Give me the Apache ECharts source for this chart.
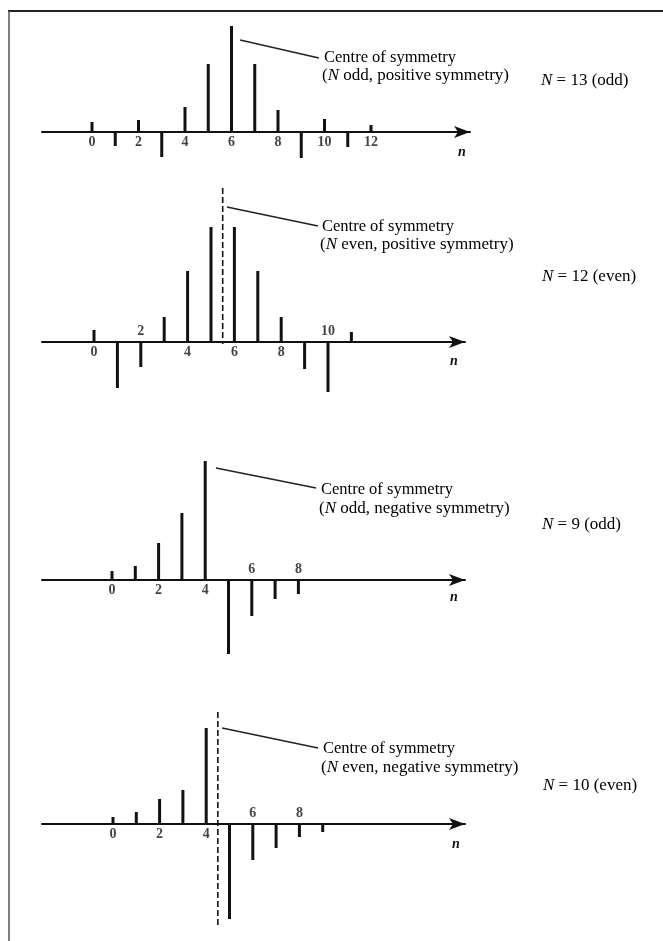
<!DOCTYPE html>
<html><head><meta charset="utf-8">
<script src="https://cdn.jsdelivr.net/npm/echarts@6/dist/echarts.min.js"></script>
<style>html,body{margin:0;padding:0;background:#fff}#c{width:663px;height:941px}</style>
</head><body><div id="c"></div>
<script>
// ---- data (heights in arbitrary units) ----
const n13 = [0,1,2,3,4,5,6,7,8,9,10,11,12];
const h13 = [10,-14,12,-25,25,68,106,68,22,-26,13,-15,7];
const ticks13Below = [0,2,4,6,8,10,12];
const ticks13Above = [];

const n12 = [0,1,2,3,4,5,6,7,8,9,10,11];
const h12 = [12,-46,-25,25,71,115,115,71,25,-27,-50,10];
const ticks12Below = [0,4,6,8];
const ticks12Above = [2,10];

const n9 = [0,1,2,3,4,5,6,7,8];
const h9 = [9,14,37,67,119,-74,-36,-19,-14];
const ticks9Below = [0,2,4];
const ticks9Above = [6,8];

const n10 = [0,1,2,3,4,5,6,7,8,9];
const h10 = [7,12,25,34,96,-95,-36,-24,-13,-8];
const ticks10Below = [0,2,4];
const ticks10Above = [6,8];

// centre-of-symmetry lines (x position, top, bottom) and leader lines
const centre12 = [5.5, 154, -2];
const centre10 = [4.5, 112, -103];
const leader13 = [[6.37, 92], [9.76, 74]];
const leader12 = [[5.68, 135], [9.57, 116]];
const leader9  = [[4.46, 112], [8.76, 92]];
const leader10 = [[4.68, 96], [8.80, 76]];

const captions = [
  ['Centre of symmetry', '({i|N} odd, positive symmetry)', '{i|N} = 13 (odd)'],
  ['Centre of symmetry', '({i|N} even, positive symmetry)', '{i|N} = 12 (even)'],
  ['Centre of symmetry', '({i|N} odd, negative symmetry)', '{i|N} = 9 (odd)'],
  ['Centre of symmetry', '({i|N} even, negative symmetry)', '{i|N} = 10 (even)']
];

// ---- layout ----
const FONT = 'Liberation Serif';
const panels = [
  {n:n13, h:h13, below:ticks13Below, above:ticks13Above, leader:leader13, centre:null,
   axisY:132, x0:92, step:23.25, left:42, right:470, ymax:120, ymin:-40,
   txt:[324,58,322,76,541,81], nLab:[458,153]},
  {n:n12, h:h12, below:ticks12Below, above:ticks12Above, leader:leader12, centre:centre12,
   axisY:342, x0:94, step:23.4, left:42, right:465, ymax:160, ymin:-60,
   txt:[322,227,320,245,542,277], nLab:[450,362]},
  {n:n9, h:h9, below:ticks9Below, above:ticks9Above, leader:leader9, centre:null,
   axisY:580, x0:112, step:23.3, left:42, right:465, ymax:140, ymin:-100,
   txt:[321,490,319,509,542,525], nLab:[450,598]},
  {n:n10, h:h10, below:ticks10Below, above:ticks10Above, leader:leader10, centre:centre10,
   axisY:824, x0:113, step:23.3, left:42, right:465, ymax:120, ymin:-110,
   txt:[323,749,321,768,543,786], nLab:[452,845]}
];

const grid = [], xAxis = [], yAxis = [], series = [], graphic = [];
const richFor = (sz) => ({i:{fontStyle:'italic', fontFamily:FONT, fontSize:sz, fill:'#000'}});

panels.forEach((p, i) => {
  grid.push({left:p.left, width:p.right - p.left, top:p.axisY - p.ymax, height:p.ymax - p.ymin});
  xAxis.push({type:'value', gridIndex:i,
    min:-(p.x0 - p.left)/p.step, max:(p.right - p.x0)/p.step,
    axisLine:{show:true, onZero:true, symbol:['none','arrow'], symbolSize:[9,16],
      lineStyle:{color:'#111', width:2}},
    axisTick:{show:false}, axisLabel:{show:false}, splitLine:{show:false}});
  yAxis.push({type:'value', gridIndex:i, min:p.ymin, max:p.ymax, show:false, splitLine:{show:false}});

  series.push({type:'bar', xAxisIndex:i, yAxisIndex:i, barWidth:3,
    itemStyle:{color:'#111'}, silent:true, animation:false,
    data:p.n.map((k, j) => [k, p.h[j]])});

  const lab = (pos) => ({show:true, position:pos, distance:3, formatter:(q)=>String(q.value[0]),
    fontFamily:FONT, fontSize:14, fontWeight:'bold', color:'#111'});
  series.push({type:'scatter', xAxisIndex:i, yAxisIndex:i, symbolSize:1,
    itemStyle:{color:'rgba(0,0,0,0)'}, label:lab('bottom'), animation:false,
    data:p.below.map(k => [k, 0])});
  if (p.above.length) series.push({type:'scatter', xAxisIndex:i, yAxisIndex:i, symbolSize:1,
    itemStyle:{color:'rgba(0,0,0,0)'}, label:lab('top'), animation:false,
    data:p.above.map(k => [k, 0])});

  series.push({type:'line', xAxisIndex:i, yAxisIndex:i, symbol:'none', animation:false,
    lineStyle:{color:'#222', width:1.6}, data:p.leader});

  if (p.centre) series.push({type:'line', xAxisIndex:i, yAxisIndex:i, symbol:'none', animation:false,
    lineStyle:{color:'#111', width:1.6, type:[6,3]},
    data:[[p.centre[0], p.centre[1]], [p.centre[0], p.centre[2]]]});

  const c = captions[i], t = p.txt;
  graphic.push({type:'text', left:t[0], top:t[1]-9, style:{text:c[0], font:'16.5px "'+FONT+'"', fill:'#000'}});
  graphic.push({type:'text', left:t[2], top:t[3]-9, style:{text:c[1], font:'17px "'+FONT+'"', fill:'#000', rich:richFor(17)}});
  graphic.push({type:'text', left:t[4], top:t[5]-9, style:{text:c[2], font:'17px "'+FONT+'"', fill:'#000', rich:richFor(17)}});
  graphic.push({type:'text', left:p.nLab[0], top:p.nLab[1]-8, style:{text:'n', font:'italic bold 14px "'+FONT+'"', fill:'#111'}});
});

// page frame
graphic.push({type:'line', shape:{x1:8, y1:11, x2:663, y2:11}, style:{stroke:'#222', lineWidth:2}});
graphic.push({type:'line', shape:{x1:9, y1:11, x2:9, y2:941}, style:{stroke:'#555', lineWidth:1.5}});

const chart = echarts.init(document.getElementById('c'), null, {renderer:'canvas'});
chart.setOption({animation:false, backgroundColor:'#fff', grid, xAxis, yAxis, series, graphic});
</script></body></html>
